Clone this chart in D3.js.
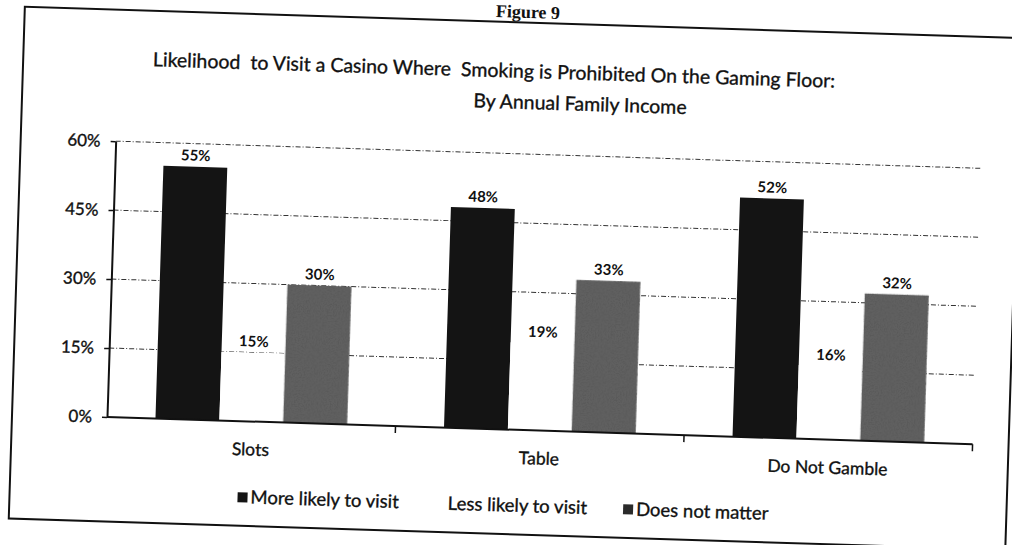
<!DOCTYPE html>
<html>
<head>
<meta charset="utf-8">
<script src="https://cdn.jsdelivr.net/npm/d3@7"></script>
<style>
    html, body { margin: 0; padding: 0; background: #fff; }
    svg { display: block; font-family: Lato, "Open Sans", sans-serif; }
    /* scanned print looks a touch heavier than the screen font */
    .ink { stroke: #111; stroke-width: 0.35px; }
</style>
</head>
<body>
<div id="chart"></div>
<script>
// Data
const categories = ["Slots", "Table", "Do Not Gamble"];
const seriesNames = ["More likely to visit", "Less likely to visit", "Does not matter"];
const moreLikely = [0.55, 0.48, 0.52];
const lessLikely = [0.15, 0.19, 0.16];
const doesNotMatter = [0.30, 0.33, 0.32];
const yTicks = [0, 0.15, 0.30, 0.45, 0.60];
const titleLines = [
    "Likelihood  to Visit a Casino Where  Smoking is Prohibited On the Gaming Floor:",
    "By Annual Family Income"
];
const figureLabel = "Figure 9";

// Layout (the scanned page is slightly tilted)
const width = 1012, height = 545;
const plot = { left: 107, right: 973, top: 141, bottom: 417 };
const tilt = 1.8;
const seriesColor = ["#141414", "#ffffff", "#606060"];
const swatchColor = ["#141414", "#ffffff", "#2a2a2a"];

const svg = d3.select("#chart").append("svg")
    .attr("width", width)
    .attr("height", height);

// Speckled texture for the grey bars
const defs = svg.append("defs");
const speckle = defs.append("filter").attr("id", "speckle")
    .attr("filterUnits", "objectBoundingBox")
    .attr("x", 0).attr("y", 0).attr("width", 1).attr("height", 1);
speckle.append("feTurbulence")
    .attr("type", "fractalNoise").attr("baseFrequency", 0.7)
    .attr("numOctaves", 2).attr("seed", 4).attr("result", "noise");
speckle.append("feColorMatrix").attr("in", "noise").attr("type", "matrix")
    .attr("values", "0 0 0 0 0.1  0 0 0 0 0.1  0 0 0 0 0.1  -3 0 0 0 1.7")
    .attr("result", "dots");
speckle.append("feComposite").attr("in", "dots").attr("in2", "SourceGraphic")
    .attr("operator", "in").attr("result", "dotsIn");
const merge = speckle.append("feMerge");
merge.append("feMergeNode").attr("in", "SourceGraphic");
merge.append("feMergeNode").attr("in", "dotsIn");

const page = svg.append("g")
    .attr("transform", `rotate(${tilt},${plot.left},${plot.bottom})`);

// Frame around the chart
page.append("rect")
    .attr("x", 12).attr("y", 9.5)
    .attr("width", 997).attr("height", 512)
    .attr("fill", "none")
    .attr("stroke", "#111")
    .attr("stroke-width", 2);

// "Figure 9" heading at the top edge of the scan
page.append("text")
    .attr("x", 515).attr("y", 5)
    .attr("text-anchor", "middle")
    .style("font-family", "'Liberation Serif', 'DejaVu Serif', serif")
    .style("font-weight", "bold")
    .style("font-size", "18px")
    .attr("fill", "#111")
    .text(figureLabel);

// Title
const titleX = [483, 570];
const titleY = [65, 96];
page.selectAll(".title")
    .data(titleLines)
    .join("text")
    .attr("class", "title ink")
    .attr("x", (d, i) => titleX[i])
    .attr("y", (d, i) => titleY[i])
    .attr("text-anchor", "middle")
    .style("font-size", "19.5px")
    .style("white-space", "pre")
    .attr("fill", "#111")
    .text(d => d);

// Scales
const y = d3.scaleLinear().domain([0, 0.6]).range([plot.bottom, plot.top]);
const x0 = d3.scaleBand()
    .domain(categories)
    .range([plot.left, plot.right])
    .paddingInner(0.336)
    .paddingOuter(0.168);
const x1 = d3.scaleBand()
    .domain(seriesNames)
    .range([0, x0.bandwidth()]);

const rows = categories.map((c, i) => ({
    category: c,
    values: [moreLikely[i], lessLikely[i], doesNotMatter[i]]
}));

// Gridlines
page.append("g").attr("class", "grid")
    .selectAll("line")
    .data(yTicks.filter(t => t > 0))
    .join("line")
    .attr("x1", plot.left).attr("x2", plot.right)
    .attr("y1", d => y(d)).attr("y2", d => y(d))
    .attr("stroke", "#333")
    .attr("stroke-width", 1)
    .attr("stroke-dasharray", "5,2,1,2");

// Bars
const groups = page.append("g").selectAll("g")
    .data(rows)
    .join("g")
    .attr("transform", d => `translate(${x0(d.category)},0)`);

groups.selectAll("rect")
    .data(d => d.values.map((v, j) => ({ series: seriesNames[j], j, value: v })))
    .join("rect")
    .attr("x", d => x1(d.series))
    .attr("y", d => y(d.value))
    .attr("width", x1.bandwidth())
    .attr("height", d => y(0) - y(d.value))
    .attr("fill", d => seriesColor[d.j])
    .attr("filter", d => d.j === 2 ? "url(#speckle)" : null);

// Value labels
groups.selectAll(".value")
    .data(d => d.values.map((v, j) => ({ series: seriesNames[j], value: v })))
    .join("text")
    .attr("class", "value")
    .attr("x", d => x1(d.series) + x1.bandwidth() / 2)
    .attr("y", d => y(d.value) - 6)
    .attr("text-anchor", "middle")
    .style("font-size", "15px")
    .style("font-weight", "bold")
    .attr("fill", "#111")
    .text(d => d3.format(".0%")(d.value));

// Y axis
const yAxis = page.append("g")
    .attr("transform", `translate(${plot.left},0)`)
    .call(d3.axisLeft(y)
        .tickValues(yTicks)
        .tickFormat(d3.format(".0%"))
        .tickSize(5)
        .tickSizeOuter(0)
        .tickPadding(10));
yAxis.select(".domain").attr("stroke", "#111").attr("stroke-width", 2);
yAxis.selectAll(".tick line").attr("stroke", "#111").attr("stroke-width", 1.5);
yAxis.selectAll(".tick text")
    .attr("class", "ink")
    .style("font-family", "Lato, sans-serif")
    .style("font-size", "17px")
    .attr("fill", "#111");

// X axis with ticks between the categories
const gap = (x0.step() - x0.bandwidth()) / 2;
const boundaries = categories.map(c => x0(c) - gap).concat([plot.right]);
const xAxis = page.append("g");
xAxis.append("line")
    .attr("x1", plot.left).attr("x2", plot.right)
    .attr("y1", y(0)).attr("y2", y(0))
    .attr("stroke", "#111").attr("stroke-width", 2);
xAxis.selectAll(".xtick")
    .data(boundaries.slice(1))
    .join("line")
    .attr("class", "xtick")
    .attr("x1", d => d).attr("x2", d => d)
    .attr("y1", y(0)).attr("y2", y(0) + 7)
    .attr("stroke", "#111").attr("stroke-width", 1.5);
xAxis.selectAll(".xlabel")
    .data(categories)
    .join("text")
    .attr("class", "xlabel ink")
    .attr("x", d => x0(d) + x0.bandwidth() / 2)
    .attr("y", y(0) + 34)
    .attr("text-anchor", "middle")
    .style("font-size", "17.5px")
    .attr("fill", "#111")
    .text(d => d);

// Legend, laid out left to right
const legend = page.append("g").attr("transform", "translate(240,493)");
let cursor = 0;
seriesNames.forEach((name, j) => {
    const item = legend.append("g").attr("transform", `translate(${cursor},0)`);
    item.append("rect")
        .attr("x", 0).attr("y", -5)
        .attr("width", 10).attr("height", 10)
        .attr("fill", swatchColor[j]);
    const label = item.append("text")
        .attr("class", "ink")
        .attr("x", 13).attr("y", 6)
        .style("font-size", "18.5px")
        .attr("fill", "#111")
        .text(name);
    cursor += 13 + label.node().getComputedTextLength() + 36;
});
</script>
</body>
</html>
